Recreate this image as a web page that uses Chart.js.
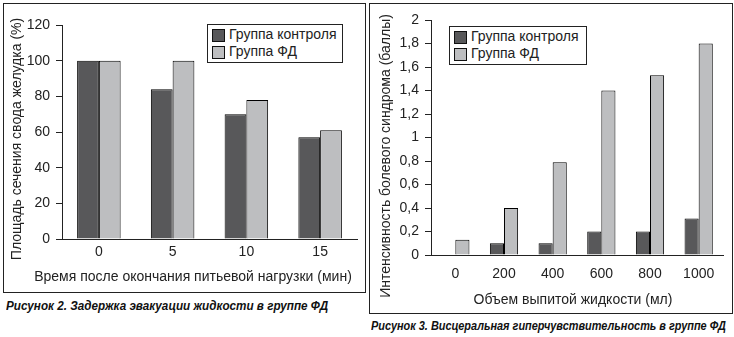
<!DOCTYPE html>
<html lang="ru">
<head>
<meta charset="UTF-8">
<title>Рисунки 2 и 3</title>
<script src="https://cdn.jsdelivr.net/npm/chart.js"></script>
<style>
  body { margin: 0; background: #fff; font-family: "Liberation Sans", Arial, sans-serif; color: #222; }
  #page { position: relative; width: 734px; height: 337px; overflow: hidden; }
  .panel { position: absolute; border: 1px solid #222; box-sizing: border-box; }
  canvas { position: absolute; }
  .legend { position: absolute; border: 1px solid #222; background: #fff; box-sizing: border-box; font-size: 14px; }
  .legend .item { position: absolute; white-space: nowrap; }
  .legend .sw { position: absolute; width: 13px; height: 13px; border: 1px solid #111; box-sizing: border-box; }
  .caption { position: absolute; font-weight: bold; font-style: italic; font-size: 12px; white-space: nowrap; color: #111; transform-origin: 0 50%; }
</style>
</head>
<body>
<div id="page">
  <div class="panel" style="left:3px; top:3px; width:363px; height:290px;"></div>
  <div class="panel" style="left:369px; top:3px; width:364px; height:311px;"></div>

  <canvas id="chart2" width="367" height="294" style="left:0; top:0;"></canvas>
  <canvas id="chart3" width="367" height="316" style="left:367px; top:0;"></canvas>

  <div class="legend" id="legend2" style="left:207px; top:24px; width:136px; height:39px;"></div>
  <div class="legend" id="legend3" style="left:449px; top:26px; width:138px; height:39px;"></div>

  <div class="caption" style="left:6px; top:299px; transform: scaleX(0.975);">Рисунок 2. Задержка эвакуации жидкости в группе ФД</div>
  <div class="caption" style="left:371px; top:319px; transform: scaleX(0.91);">Рисунок 3. Висцеральная гиперчувствительность в группе ФД</div>
</div>

<script>
// данные
const seriesNames = ['Группа контроля', 'Группа ФД'];
const seriesColors = ['#58585a', '#bdbec0'];

const timeLabels = ['0', '5', '10', '15'];
const areaControl = [100, 84, 70, 57];
const areaFD = [100, 100, 78, 61];

const volumeLabels = ['0', '200', '400', '600', '800', '1000'];
const painControl = [0, 0.1, 0.1, 0.2, 0.2, 0.31];
const painFD = [0.13, 0.4, 0.79, 1.4, 1.53, 1.8];

Chart.defaults.font.family = '"Liberation Sans", Arial, sans-serif';
Chart.defaults.font.size = 14;
Chart.defaults.color = '#222';

// подписи осей рисуем сами, чтобы поставить их как в оригинале
const axisTitles = {
    id: 'axisTitles',
    afterDraw(chart, args, opts) {
        const ctx = chart.ctx;
        ctx.save();
        ctx.font = '14px "Liberation Sans", Arial, sans-serif';
        ctx.fillStyle = '#222';
        ctx.textAlign = 'center';
        ctx.textBaseline = 'middle';
        ctx.fillText(opts.xText, opts.xPos[0], opts.xPos[1]);
        ctx.translate(opts.yPos[0], opts.yPos[1]);
        ctx.rotate(-Math.PI / 2);
        ctx.fillText(opts.yText, 0, 0);
        ctx.restore();
    }
};

function makeDatasets(a, b, catPct) {
    return [a, b].map((d, i) => ({
        label: seriesNames[i],
        data: d,
        backgroundColor: seriesColors[i],
        borderColor: '#000',
        borderWidth: 1,
        borderSkipped: 'bottom',
        categoryPercentage: catPct,
        barPercentage: 1
    }));
}

function makeChart(id, labels, a, b, cfg) {
    return new Chart(document.getElementById(id), {
        type: 'bar',
        data: { labels: labels, datasets: makeDatasets(a, b, cfg.catPct) },
        plugins: [axisTitles],
        options: {
            responsive: false,
            animation: false,
            layout: { padding: cfg.padding },
            plugins: {
                legend: { display: false },
                tooltip: { enabled: false },
                axisTitles: cfg.titles
            },
            scales: {
                x: {
                    grid: { display: false, drawTicks: false },
                    border: { display: true, color: '#222', width: 1 },
                    ticks: { padding: cfg.xPad, maxRotation: 0 },
                    afterFit: s => { s.height = cfg.xHeight; }
                },
                y: {
                    min: 0,
                    max: cfg.yMax,
                    grid: { display: true, drawOnChartArea: false, drawTicks: true, tickLength: 6, color: '#222' },
                    border: { display: true, color: '#222', width: 1 },
                    ticks: { stepSize: cfg.yStep, padding: 6, callback: cfg.fmt },
                    afterFit: s => { s.width = cfg.yWidth; }
                }
            }
        }
    });
}

function makeLegend(id) {
    const box = document.getElementById(id);
    seriesNames.forEach((name, i) => {
        const sw = document.createElement('div');
        sw.className = 'sw';
        sw.style.left = '4px';
        sw.style.top = (4 + i * 17) + 'px';
        sw.style.background = seriesColors[i];
        box.appendChild(sw);
        const t = document.createElement('div');
        t.className = 'item';
        t.style.left = '21px';
        t.style.top = (1 + i * 17) + 'px';
        t.textContent = name;
        box.appendChild(t);
    });
}

makeChart('chart2', timeLabels, areaControl, areaFD, {
    catPct: 0.59,
    padding: { top: 25, right: 10, left: 0, bottom: 0 },
    xHeight: 55, yWidth: 62, xPad: 5,
    yMax: 120, yStep: 20,
    fmt: v => String(v),
    titles: {
        xText: 'Время после окончания питьевой нагрузки (мин)', xPos: [193, 277],
        yText: 'Площадь сечения свода желудка (%)', yPos: [17, 139]
    }
});

makeChart('chart3', volumeLabels, painControl, painFD, {
    catPct: 0.58,
    padding: { top: 20, right: 11, left: 0, bottom: 0 },
    xHeight: 61, yWidth: 64, xPad: 11,
    yMax: 2, yStep: 0.2,
    fmt: v => String(Math.round(v * 10) / 10).replace('.', ','),
    titles: {
        xText: 'Объем выпитой жидкости (мл)', xPos: [206, 300],
        yText: 'Интенсивность болевого синдрома (баллы)', yPos: [19, 156]
    }
});

makeLegend('legend2');
makeLegend('legend3');
</script>
</body>
</html>
